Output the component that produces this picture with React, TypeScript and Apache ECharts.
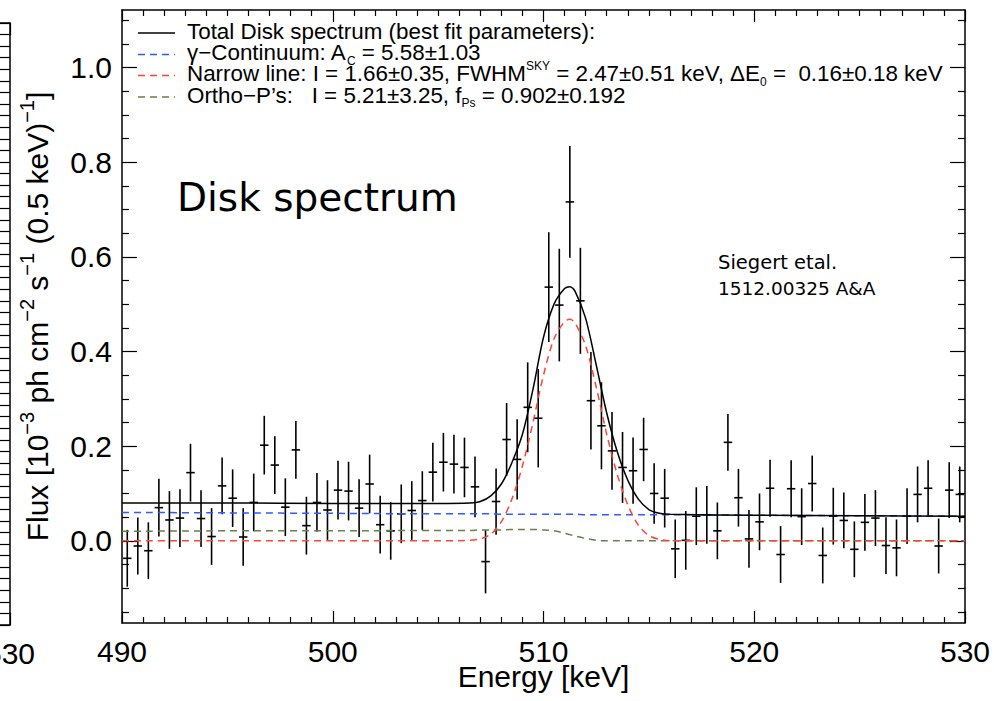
import React, { useEffect, useRef } from "react";
import * as echarts from "echarts";

// ---- data ----
const ENERGY = [
  490.25, 490.75, 491.25, 491.75, 492.25, 492.75, 493.25, 493.75, 494.25, 494.75,
  495.25, 495.75, 496.25, 496.75, 497.25, 497.75, 498.25, 498.75, 499.25, 499.75,
  500.25, 500.75, 501.25, 501.75, 502.25, 502.75, 503.25, 503.75, 504.25, 504.75,
  505.25, 505.75, 506.25, 506.75, 507.25, 507.75, 508.25, 508.75, 509.25, 509.75,
  510.25, 510.75, 511.25, 511.75, 512.25, 512.75, 513.25, 513.75, 514.25, 514.75,
  515.25, 515.75, 516.25, 516.75, 517.25, 517.75, 518.25, 518.75, 519.25, 519.75,
  520.25, 520.75, 521.25, 521.75, 522.25, 522.75, 523.25, 523.75, 524.25, 524.75,
  525.25, 525.75, 526.25, 526.75, 527.25, 527.75, 528.25, 528.75, 529.25, 529.75,
];
const FLUX = [
  -0.037, -0.011, -0.021, 0.07, 0.044, 0.048, 0.144, 0.047, 0.009, 0.116,
  0.09, 0.008, 0.081, 0.202, 0.16, 0.071, 0.192, 0.032, 0.081, 0.065,
  0.107, 0.105, 0.069, 0.12, 0.034, 0.021, 0.057, 0.064, 0.085, 0.145,
  0.166, 0.162, 0.155, 0.114, -0.044, 0.083, 0.214, 0.172, 0.282, 0.259,
  0.536, 0.498, 0.716, 0.507, 0.296, 0.243, 0.19, 0.155, 0.148, 0.193,
  0.1, 0.09, -0.017, 0.001, 0.052, 0.055, 0.021, 0.208, 0.091, 0.004,
  0.04, 0.111, -0.029, 0.11, 0.051, 0.121, -0.031, 0.052, 0.043, -0.018,
  0.039, 0.048, -0.01, -0.015, 0.052, 0.098, 0.111, -0.011, 0.107, 0.098,
];
const FLUX_ERR = [
  0.06, 0.06, 0.06, 0.061, 0.061, 0.061, 0.061, 0.06, 0.06, 0.06,
  0.061, 0.061, 0.061, 0.062, 0.061, 0.061, 0.061, 0.061, 0.062, 0.063,
  0.062, 0.062, 0.061, 0.062, 0.061, 0.061, 0.062, 0.062, 0.062, 0.062,
  0.062, 0.062, 0.063, 0.064, 0.067, 0.07, 0.077, 0.085, 0.095, 0.104,
  0.116, 0.119, 0.118, 0.112, 0.103, 0.092, 0.082, 0.075, 0.07, 0.067,
  0.064, 0.062, 0.062, 0.062, 0.061, 0.061, 0.06, 0.06, 0.061, 0.061,
  0.06, 0.06, 0.06, 0.06, 0.06, 0.059, 0.059, 0.06, 0.059, 0.059,
  0.06, 0.059, 0.06, 0.06, 0.059, 0.059, 0.059, 0.058, 0.059, 0.059,
];
const MODEL_ENERGY = [
  490, 495, 500, 505, 506.5, 507, 507.5, 508, 508.5, 509, 509.5, 510, 510.5, 511,
  511.25, 511.5, 512, 512.5, 513, 513.5, 514, 514.5, 515, 515.5, 516, 520, 525, 530,
];
const TOTAL_FIT = [
  0.08, 0.08, 0.079, 0.079, 0.08, 0.083, 0.095, 0.12, 0.165, 0.225, 0.32, 0.43, 0.5, 0.533,
  0.537, 0.527, 0.47, 0.372, 0.27, 0.188, 0.128, 0.088, 0.066, 0.058, 0.056, 0.054, 0.053, 0.052,
];
const CONTINUUM = [
  0.06, 0.059, 0.058, 0.057, 0.057, 0.057, 0.057, 0.056, 0.056, 0.056, 0.056, 0.056, 0.056, 0.056,
  0.056, 0.056, 0.055, 0.055, 0.055, 0.055, 0.055, 0.055, 0.055, 0.055, 0.055, 0.054, 0.053, 0.052,
];
const NARROW_LINE = [
  0, 0, 0, 0, 0.001, 0.004, 0.014, 0.04, 0.088, 0.158, 0.25, 0.35, 0.427, 0.463,
  0.468, 0.46, 0.412, 0.325, 0.225, 0.14, 0.076, 0.033, 0.011, 0.003, 0, 0, 0, 0,
];
const ORTHO_PS = [
  0.02, 0.021, 0.021, 0.022, 0.022, 0.023, 0.023, 0.023, 0.024, 0.024, 0.024, 0.023, 0.021, 0.016,
  0.013, 0.01, 0.005, 0.001, 0, 0, 0, 0, 0, 0, 0, 0, 0, 0,
];
const Y_MAJOR_TICKS = [0, 0.2, 0.4, 0.6, 0.8, 1.0];
const Y_MINOR_TICKS = [
  -0.15, -0.1, -0.05, 0.05, 0.1, 0.15, 0.25, 0.3, 0.35, 0.45, 0.5, 0.55,
  0.65, 0.7, 0.75, 0.85, 0.9, 0.95, 1.05, 1.1,
];
const X_MIN = 490;
const X_MAX = 530;
const Y_MIN = -0.1737;
const Y_MAX = 1.1215;

const COLORS = { total: "#000000", cont: "#2f5bff", narrow: "#ff4530", ortho: "#6a7d4c" };
const FONT = "Liberation Sans, Arial, Helvetica, sans-serif";
const HAND = "DejaVu Sans, sans-serif";

const LEGEND_ROWS = [
  { color: COLORS.total, dashed: false, text: "{n|Total Disk spectrum (best fit parameters):}" },
  { color: COLORS.cont, dashed: true, text: "{n|γ−Continuum: A}{sub|C}{n| = 5.58±1.03}" },
  {
    color: COLORS.narrow,
    dashed: true,
    text: "{n|Narrow line: I = 1.66±0.35, FWHM}{sup|SKY}{n| = 2.47±0.51 keV, ΔE}{sub|0}{n| =  0.16±0.18 keV}",
  },
  { color: COLORS.ortho, dashed: true, text: "{n|Ortho−P’s:   I = 5.21±3.25, f}{sub|Ps}{n| = 0.902±0.192}" },
];
const LEGEND_Y = [31, 52.5, 73.5, 95];

export default function App() {
  const ref = useRef<HTMLDivElement>(null);
  useEffect(() => {
    if (!ref.current) return;
    const chart = echarts.init(ref.current, null, { renderer: "svg" });

    const legendRich = {
      n: { fontSize: 22.4, lineHeight: 28, fontFamily: FONT, fill: "#000", color: "#000" },
      sub: { fontSize: 12, lineHeight: 12, verticalAlign: "bottom", fontFamily: FONT, fill: "#000", color: "#000" },
      sup: { fontSize: 12, lineHeight: 9, verticalAlign: "top", fontFamily: FONT, fill: "#000", color: "#000" },
    };

    const textBase = {
      fill: "#000",
      align: "left",
      verticalAlign: "middle",
      textAlign: "left",
      textVerticalAlign: "middle",
    };

    const graphics: any[] = [];
    LEGEND_ROWS.forEach((row, i) => {
      graphics.push({
        type: "line",
        shape: { x1: 138, y1: LEGEND_Y[i] + 2, x2: 175, y2: LEGEND_Y[i] + 2 },
        style: { stroke: row.color, lineWidth: 1.5, lineDash: row.dashed ? [7, 5] : null },
      });
      graphics.push({
        type: "text",
        x: 187,
        y: LEGEND_Y[i],
        style: { ...textBase, text: row.text, rich: legendRich, fontSize: 22.4, fontFamily: FONT },
      });
    });
    graphics.push({
      type: "text",
      x: 177,
      y: 197,
      style: { ...textBase, text: "Disk spectrum", fontSize: 39, fontFamily: HAND },
    });
    graphics.push({
      type: "text",
      x: 718,
      y: 262,
      style: { ...textBase, text: "Siegert etal.", fontSize: 19.5, fontFamily: HAND },
    });
    graphics.push({
      type: "text",
      x: 718,
      y: 288,
      style: { ...textBase, text: "1512.00325 A&A", fontSize: 18.5, fontFamily: HAND },
    });

    const axisLine = { show: true, onZero: false, lineStyle: { color: "#000", width: 1.5 } };
    const tickStyle = { color: "#000", width: 1.2 };

    const baseX = {
      type: "value",
      min: X_MIN,
      max: X_MAX,
      interval: 10,
      axisLine,
      splitLine: { show: false },
      axisTick: { show: true, inside: true, length: 12, lineStyle: tickStyle },
      minorTick: { show: true, splitNumber: 10, length: 6, lineStyle: tickStyle },
    };
    const baseY = {
      type: "value",
      min: Y_MIN,
      max: Y_MAX,
      splitLine: { show: false },
    };

    const option: any = {
      animation: false,
      textStyle: { fontFamily: FONT },
      grid: [
        { left: 122, right: 29, top: 10, bottom: 78, containLabel: false, outerBoundsMode: "none" },
        { left: -830, right: 984, top: 23, bottom: 76, containLabel: false, outerBoundsMode: "none" },
      ],
      xAxis: [
        {
          ...baseX,
          gridIndex: 0,
          position: "bottom",
          axisLabel: { show: true, fontSize: 30, color: "#000", fontFamily: FONT, margin: 13 },
          name: "Energy [keV]",
          nameLocation: "middle",
          nameGap: 38,
          nameMoveOverlap: false,
          nameTextStyle: { fontSize: 30, color: "#000", fontFamily: FONT },
        },
        { ...baseX, gridIndex: 0, position: "top", axisLabel: { show: false } },
        {
          ...baseX,
          gridIndex: 1,
          position: "bottom",
          axisLabel: { show: true, fontSize: 30, color: "#000", fontFamily: FONT, margin: 13 },
        },
        { ...baseX, gridIndex: 1, position: "top", axisLabel: { show: false } },
      ],
      yAxis: [
        {
          ...baseY,
          gridIndex: 0,
          position: "left",
          axisLine,
          axisTick: { show: true, inside: true, length: 15, lineStyle: tickStyle, customValues: Y_MAJOR_TICKS },
          axisLabel: {
            show: true,
            customValues: Y_MAJOR_TICKS,
            formatter: (v: number) => v.toFixed(1),
            fontSize: 30,
            color: "#000",
            fontFamily: FONT,
            margin: 10,
          },
          name: "{n|Flux [10}{sup|−3}{n| ph cm}{sup|−2}{n| s}{sup|−1}{n| (0.5 keV)}{sup|−1}{n|]}",
          nameLocation: "middle",
          nameGap: 65,
          nameMoveOverlap: false,
          nameTextStyle: {
            fontSize: 30,
            color: "#000",
            fontFamily: FONT,
            rich: {
              n: { fontSize: 30, lineHeight: 40, color: "#000", fontFamily: FONT },
              sup: { fontSize: 20, lineHeight: 17, verticalAlign: "top", color: "#000", fontFamily: FONT },
            },
          },
        },
        {
          ...baseY,
          gridIndex: 0,
          position: "left",
          axisLine: { show: false, onZero: false },
          axisTick: { show: true, inside: true, length: 7, lineStyle: tickStyle, customValues: Y_MINOR_TICKS },
          axisLabel: { show: false },
        },
        {
          ...baseY,
          gridIndex: 0,
          position: "right",
          axisLine,
          axisTick: { show: true, inside: true, length: 15, lineStyle: tickStyle, customValues: Y_MAJOR_TICKS },
          axisLabel: { show: false },
        },
        {
          ...baseY,
          gridIndex: 0,
          position: "right",
          axisLine: { show: false, onZero: false },
          axisTick: { show: true, inside: true, length: 7, lineStyle: tickStyle, customValues: Y_MINOR_TICKS },
          axisLabel: { show: false },
        },
        {
          type: "value",
          gridIndex: 1,
          position: "right",
          min: 0,
          max: 52,
          interval: 1,
          axisLine,
          splitLine: { show: false },
          axisTick: { show: true, inside: true, length: 10, lineStyle: tickStyle },
          axisLabel: { show: false },
        },
      ],
      graphic: graphics,
      series: [
        {
          type: "custom",
          name: "Disk spectrum data",
          xAxisIndex: 0,
          yAxisIndex: 0,
          clip: true,
          z: 3,
          data: ENERGY.map((e, i) => [e, FLUX[i], FLUX_ERR[i]]),
          encode: { x: 0, y: 1 },
          renderItem: (_params: any, api: any) => {
            const x = api.value(0);
            const y = api.value(1);
            const err = api.value(2);
            const top = api.coord([x, y + err]);
            const bot = api.coord([x, y - err]);
            const l = api.coord([x - 0.2, y]);
            const r = api.coord([x + 0.2, y]);
            const style = { stroke: "#000", lineWidth: 1.6 };
            return {
              type: "group",
              children: [
                { type: "line", shape: { x1: top[0], y1: top[1], x2: bot[0], y2: bot[1] }, style },
                { type: "line", shape: { x1: l[0], y1: l[1], x2: r[0], y2: r[1] }, style },
              ],
            };
          },
        },
        {
          type: "line",
          name: "γ-Continuum",
          xAxisIndex: 0,
          yAxisIndex: 0,
          showSymbol: false,
          smooth: 0.3,
          z: 4,
          data: MODEL_ENERGY.map((e, i) => [e, CONTINUUM[i]]),
          lineStyle: { color: COLORS.cont, width: 1.5, type: [7, 5] },
        },
        {
          type: "line",
          name: "Ortho-Ps",
          xAxisIndex: 0,
          yAxisIndex: 0,
          showSymbol: false,
          smooth: 0.3,
          z: 4,
          data: MODEL_ENERGY.map((e, i) => [e, ORTHO_PS[i]]),
          lineStyle: { color: COLORS.ortho, width: 1.5, type: [7, 5] },
        },
        {
          type: "line",
          name: "Narrow line",
          xAxisIndex: 0,
          yAxisIndex: 0,
          showSymbol: false,
          smooth: 0.3,
          z: 4,
          data: MODEL_ENERGY.map((e, i) => [e, NARROW_LINE[i]]),
          lineStyle: { color: COLORS.narrow, width: 1.5, type: [7, 5] },
        },
        {
          type: "line",
          name: "Total Disk spectrum",
          xAxisIndex: 0,
          yAxisIndex: 0,
          showSymbol: false,
          smooth: 0.3,
          z: 5,
          data: MODEL_ENERGY.map((e, i) => [e, TOTAL_FIT[i]]),
          lineStyle: { color: COLORS.total, width: 1.5 },
        },
      ],
    };
    chart.setOption(option);
    return () => chart.dispose();
  }, []);

  return (
    <div
      ref={ref}
      style={{ position: "fixed", left: 0, top: 0, width: 994, height: 701, background: "#fff" }}
    />
  );
}
